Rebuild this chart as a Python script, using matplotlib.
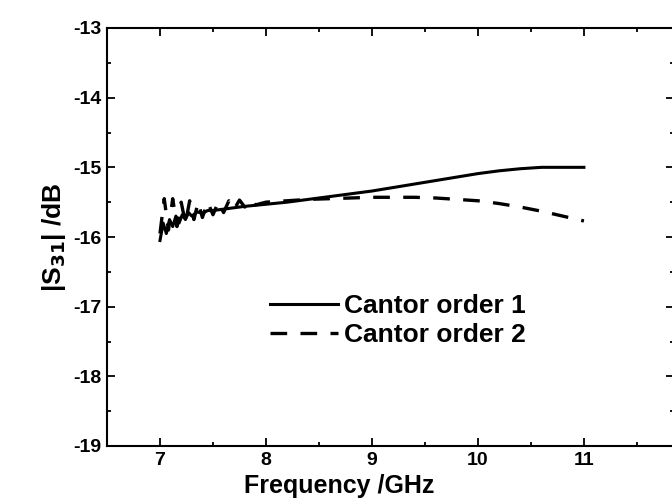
import matplotlib
matplotlib.use("Agg")
import matplotlib.pyplot as plt
from matplotlib.ticker import MultipleLocator

plt.rcParams['font.family'] = ['Liberation Sans', 'DejaVu Sans']
plt.rcParams['font.weight'] = 'bold'
plt.rcParams['axes.unicode_minus'] = False

# Cantor order 1 (solid)
freq_1 = [7.0, 7.03, 7.06, 7.09, 7.12, 7.15, 7.18, 7.21, 7.24, 7.27, 7.3, 7.35, 7.4, 7.45,
          7.5, 7.6, 7.7, 7.8, 8.0, 8.2, 8.4, 8.6, 8.8, 9.0, 9.2, 9.4, 9.6, 9.8, 10.0,
          10.2, 10.4, 10.6, 10.8, 11.0]
s31_1 = [-16.05, -15.8, -15.95, -15.75, -15.85, -15.7, -15.8, -15.68, -15.75, -15.65, -15.7,
         -15.64, -15.66, -15.62, -15.62, -15.6, -15.58, -15.56, -15.53, -15.5, -15.46, -15.42,
         -15.38, -15.34, -15.29, -15.24, -15.19, -15.14, -15.09, -15.05, -15.02, -15.0, -15.0,
         -15.0]

# Cantor order 2 (dashed)
freq_2 = [7.0, 7.04, 7.08, 7.12, 7.16, 7.2, 7.24, 7.28, 7.32, 7.36, 7.4, 7.45, 7.5, 7.55,
          7.6, 7.65, 7.7, 7.75, 7.8, 7.85, 7.9, 8.0, 8.1, 8.2, 8.4, 8.6, 8.8, 9.0, 9.2, 9.4,
          9.6, 9.8, 10.0, 10.2, 10.4, 10.6, 10.8, 11.0]
s31_2 = [-15.95, -15.45, -15.9, -15.45, -15.85, -15.5, -15.8, -15.48, -15.75, -15.5, -15.72,
         -15.5, -15.68, -15.5, -15.65, -15.48, -15.6, -15.47, -15.57, -15.47, -15.54, -15.5,
         -15.49, -15.48, -15.46, -15.45, -15.44, -15.43, -15.43, -15.43, -15.44, -15.46, -15.48,
         -15.52, -15.57, -15.63, -15.7, -15.77]

fig = plt.figure(figsize=(6.72, 5.01), dpi=100)
ax = fig.add_axes([107 / 672, 55 / 501, 567 / 672, 418 / 501])

ax.plot(freq_1, s31_1, color='black', linewidth=2.2, label='Cantor order 1')
ax.plot(freq_2, s31_2, color='black', linewidth=2.4, dashes=(5, 4), label='Cantor order 2')

ax.set_xlim(6.5, 11.85)
ax.set_ylim(-19, -13)
ax.xaxis.set_major_locator(MultipleLocator(1))
ax.xaxis.set_minor_locator(MultipleLocator(0.5))
ax.yaxis.set_major_locator(MultipleLocator(1))
ax.yaxis.set_minor_locator(MultipleLocator(0.5))
ax.tick_params(which='both', direction='in', top=True, right=True, labelsize=14, width=1.3)
ax.tick_params(which='major', length=6, pad=4)
ax.tick_params(which='minor', length=3)
for sp in ax.spines.values():
    sp.set_linewidth(1.5)

ax.set_xlabel('Frequency /GHz', fontsize=18, fontweight='bold')
ax.xaxis.set_label_coords(0.41, -0.068)
ax.set_ylabel(r'|S$_{\mathbf{31}}$| /dB', fontsize=19, fontweight='bold', labelpad=4)

ax.legend(loc='center left', bbox_to_anchor=(0.245, 0.30), frameon=False, fontsize=19,
          handlelength=2.6, handletextpad=0.2, labelspacing=0.2)

fig.savefig('out.png', dpi=100)
